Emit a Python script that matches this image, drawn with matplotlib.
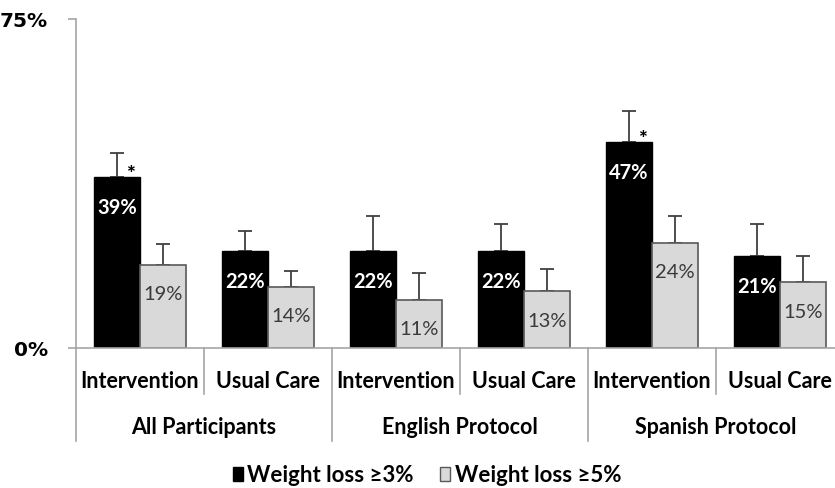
import matplotlib
matplotlib.use('Agg')
import matplotlib.pyplot as plt
import numpy as np
from matplotlib.patches import Patch

# data
groups = ['All Participants', 'English Protocol', 'Spanish Protocol']
arms = ['Intervention', 'Usual Care', 'Intervention', 'Usual Care', 'Intervention', 'Usual Care']
loss3 = [39, 22, 22, 22, 47, 21]
loss5 = [19, 14, 11, 13, 24, 15]
err3 = [5.5, 4.6, 8.2, 6.2, 7.0, 7.2]
err5 = [4.6, 3.6, 6.0, 5.1, 6.1, 6.0]
signif = [True, False, False, False, True, False]
yticks = [0, 75]
series_names = ['Weight loss \u22653%', 'Weight loss \u22655%']

FONT = ['Lato', 'DejaVu Sans']
black = '#000000'
grey = '#d9d9d9'
edge = '#595959'
errc = '#404040'

fig = plt.figure(figsize=(8.35, 4.89), dpi=100)
ax = fig.add_axes([76 / 835, 1 - 349 / 489, 1 - 76 / 835, 329 / 489])

x = np.arange(len(arms))
w = 0.36
ax.bar(x - w / 2, loss3, w, color=black, edgecolor=black, linewidth=1.0, zorder=2)
ax.bar(x + w / 2, loss5, w, color=grey, edgecolor=edge, linewidth=1.2, zorder=2)

lo = np.zeros(len(arms))
ax.errorbar(x - w / 2, loss3, yerr=[lo, err3], fmt='none', ecolor=errc,
            elinewidth=1.3, capsize=4.8, capthick=1.3, zorder=1)
ax.errorbar(x + w / 2, loss5, yerr=[lo, err5], fmt='none', ecolor=errc,
            elinewidth=1.3, capsize=4.8, capthick=1.3, zorder=1)

# value labels inside the bar tops
for i in range(len(arms)):
    ax.annotate(f'{loss3[i]}%', (x[i] - w / 2, loss3[i]), xytext=(0, -21.5),
                textcoords='offset points', ha='center', va='center',
                color='white', fontsize=14.5, fontweight='bold', family=FONT, zorder=3)
    ax.annotate(f'{loss5[i]}%', (x[i] + w / 2, loss5[i]), xytext=(0, -21),
                textcoords='offset points', ha='center', va='center',
                color='#3a3a3a', fontsize=14.5, family=FONT, zorder=3)
    if signif[i]:
        ax.annotate('*', (x[i] - w / 2, loss3[i]), xytext=(9.5, -2),
                    textcoords='offset points', ha='center', va='baseline',
                    fontsize=15, fontweight='black', family=FONT)

ax.set_xlim(-0.5, (835 - 76) / 128 - 0.5)
ax.set_ylim(0, 75)

for s in ['top', 'right']:
    ax.spines[s].set_visible(False)
ax.spines['left'].set_color('#a6a6a6')
ax.spines['bottom'].set_color('#a6a6a6')
ax.spines['left'].set_linewidth(1.2)
ax.spines['bottom'].set_linewidth(1.2)

ax.set_yticks(yticks)
ax.set_yticklabels([f'{t}%' for t in yticks], fontsize=14.5, fontweight='bold',
                   family='DejaVu Sans')
ax.tick_params(axis='y', length=6, color='#a6a6a6', width=1.2, pad=14)
ax.set_xticks([])

# category labels and separators below the axis
trans = ax.get_xaxis_transform()
for i, a in enumerate(arms):
    ax.text(x[i], -0.1, a, transform=trans, ha='center', va='center',
            fontsize=15.5, fontweight='bold', family=FONT)
for i, g in enumerate(groups):
    ax.text(2 * i + 0.5, -0.24, g, transform=trans, ha='center', va='center',
            fontsize=15.5, fontweight='bold', family=FONT)
for i in range(len(arms) + 1):
    bottom = -0.283 if i % 2 == 0 else -0.14
    ax.plot([i - 0.5, i - 0.5], [0, bottom], transform=trans, color='#a6a6a6',
            lw=1.2, clip_on=False)

handles = [Patch(facecolor=black, edgecolor=black),
           Patch(facecolor=grey, edgecolor=edge)]
fig.legend(handles, series_names, loc='center', bbox_to_anchor=(427 / 835, 1 - 476 / 489),
           ncol=2, frameon=False, handlelength=0.45, handleheight=0.6,
           handletextpad=0.2, columnspacing=1.2,
           prop={'family': FONT, 'weight': 'bold', 'size': 16})

fig.savefig('out.png', dpi=100)
